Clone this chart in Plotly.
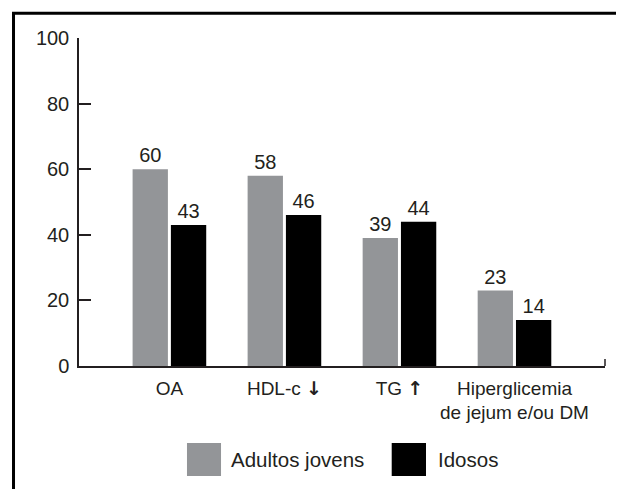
import plotly.graph_objects as go

ARROW = "<span style='font-family:DejaVu Sans'><b>{}</b></span>"
categories = ["OA", "HDL-c " + ARROW.format("\u2193"), "TG " + ARROW.format("\u2191"),
              "Hiperglicemia<br>de jejum e/ou DM"]
adultos_jovens = [60, 58, 39, 23]
idosos = [43, 46, 44, 14]
series_names = ["Adultos jovens", "Idosos"]
y_ticks = [0, 20, 40, 60, 80, 100]

GRAY = "#939598"
BLACK = "#000000"
TXT = "#231f20"
FONT = "Liberation Sans, Arial, Helvetica, sans-serif"

x_idx = list(range(len(categories)))

fig = go.Figure()
for name, vals, col in [(series_names[0], adultos_jovens, GRAY), (series_names[1], idosos, BLACK)]:
    fig.add_trace(go.Bar(
        x=x_idx, y=vals, name=name, marker=dict(color=col, line=dict(width=0)),
        text=[str(v) for v in vals], textposition="outside", cliponaxis=False,
        textfont=dict(family=FONT, size=20, color=TXT), showlegend=False,
    ))

# page has an 8px body margin, so the figure is 8px smaller than the window
fig.update_layout(
    width=616, height=481,
    margin=dict(l=71, r=19, t=30, b=123),
    paper_bgcolor="white", plot_bgcolor="white",
    barmode="group", bargap=0.334, bargroupgap=0.078,
    font=dict(family=FONT, color=TXT),
    xaxis=dict(
        range=[-0.786, 3.787], tickmode="array", tickvals=x_idx, ticktext=categories,
        showline=True, linecolor="#231f20", linewidth=1.5, showgrid=False, zeroline=False,
        ticks="", tickfont=dict(family=FONT, size=19, color=TXT), ticklabelstandoff=4,
        fixedrange=True,
    ),
    yaxis=dict(
        range=[0, 100], tickmode="array", tickvals=y_ticks,
        showline=True, linecolor="#231f20", linewidth=1.5, showgrid=False, zeroline=False,
        ticks="inside", ticklen=12, tickwidth=1.5, tickcolor="#231f20",
        tickfont=dict(family=FONT, size=20, color=TXT), ticklabelstandoff=4,
        fixedrange=True,
    ),
)

# outer frame (extends beyond right and bottom edges)
fig.add_shape(type="rect", xref="paper", yref="paper",
              x0=-0.1245, x1=1.2, y0=-0.6, y1=1.0758,
              line=dict(color="black", width=3), fillcolor="rgba(0,0,0,0)", layer="below")

# small end tick at the right end of the x-axis
fig.add_shape(type="line", xref="paper", yref="paper", x0=1, x1=1, y0=0, y1=0.021,
              line=dict(color="#231f20", width=1.5))

# legend drawn manually (large swatches)
legend_items = [
    (series_names[0], GRAY, 0.2053, 0.2700, 0.2852),
    (series_names[1], BLACK, 0.5945, 0.6597, 0.6780),
]
for name, col, sx0, sx1, tx in legend_items:
    fig.add_shape(type="rect", xref="paper", yref="paper", x0=sx0, x1=sx1,
                  y0=-0.335, y1=-0.2345, fillcolor=col, line=dict(width=0))
    fig.add_annotation(xref="paper", yref="paper", x=tx, y=-0.286, text=name,
                       showarrow=False, xanchor="left", yanchor="middle",
                       font=dict(family=FONT, size=20.5, color=TXT))

fig.write_html("out.html")
